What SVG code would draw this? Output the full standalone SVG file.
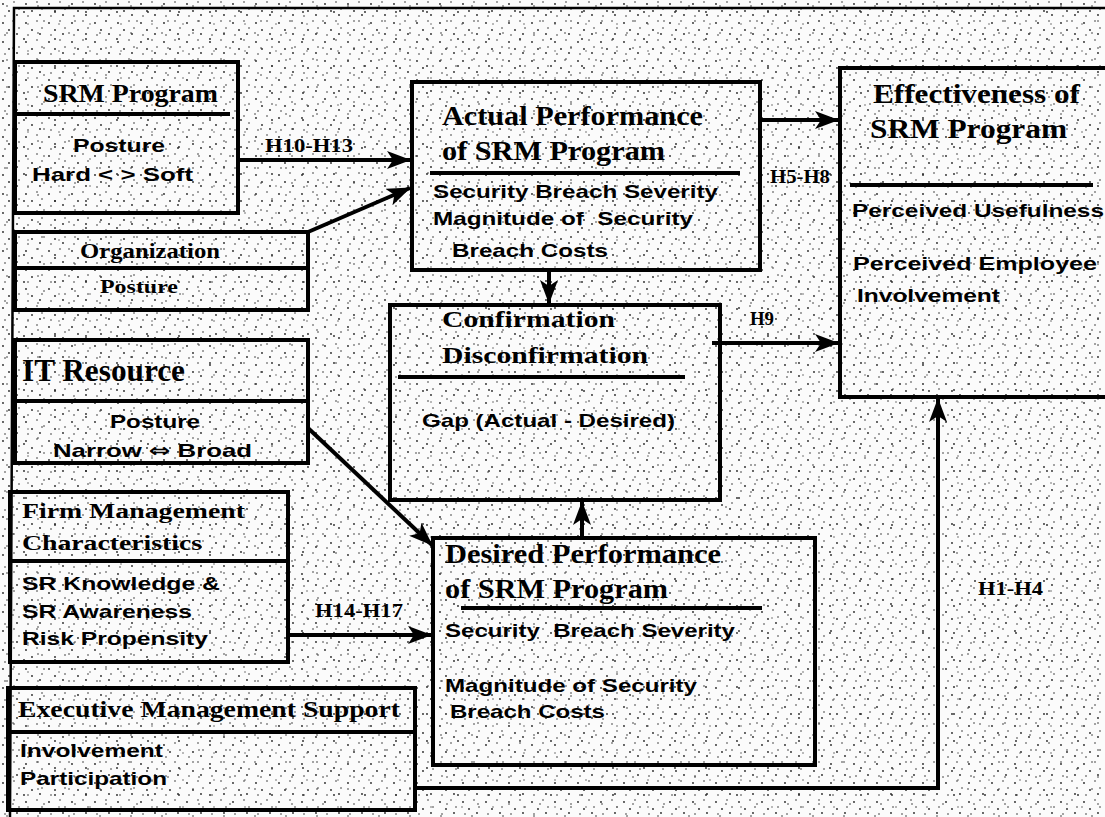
<svg xmlns="http://www.w3.org/2000/svg" width="1105" height="817" viewBox="0 0 1105 817">
  <defs>
    <!-- speckled paper texture -->
    <pattern id="speckA" width="23" height="19" patternUnits="userSpaceOnUse">
      <rect width="23" height="19" fill="#fbfbfb"/>
      <circle cx="3" cy="4" r="0.9" fill="#222"/>
      <circle cx="14" cy="2" r="0.8" fill="#333"/>
      <circle cx="9" cy="11" r="0.9" fill="#222"/>
      <circle cx="19" cy="9" r="0.8" fill="#333"/>
      <circle cx="5" cy="16" r="0.8" fill="#333"/>
      <circle cx="17" cy="15" r="0.9" fill="#222"/>
    </pattern>
    <pattern id="speckB" width="31" height="27" patternUnits="userSpaceOnUse">
      <circle cx="7" cy="6" r="0.8" fill="#333"/>
      <circle cx="24" cy="12" r="0.9" fill="#222"/>
      <circle cx="13" cy="21" r="0.8" fill="#333"/>
      <circle cx="28" cy="24" r="0.7" fill="#444"/>
    </pattern>
    <marker id="arr" viewBox="0 0 24 18" refX="23" refY="9" markerWidth="24" markerHeight="18" markerUnits="userSpaceOnUse" orient="auto">
      <path d="M0,0 L24,9 L0,18 L6,9 Z" fill="#000"/>
    </marker>
  </defs>
  <style>
    .box { fill: none; stroke: #000; stroke-width: 4; }
    .rule { stroke: #000; stroke-width: 4; }
    .frame { fill: none; stroke: #000; stroke-width: 2.5; }
    .ttl { font-family: "Liberation Serif", "Times New Roman", serif; font-weight: bold; fill: #000; }
    .txt { font-family: "Liberation Sans", Arial, sans-serif; font-weight: bold; fill: #000; font-size: 19px; }
    .sym { font-family: "DejaVu Sans", sans-serif; font-weight: bold; }
    .lbl { font-family: "Liberation Serif", "Times New Roman", serif; font-weight: bold; fill: #000; font-size: 19px; }
    .conn { fill: none; stroke: #000; stroke-width: 4; marker-end: url(#arr); }
  </style>

  <rect width="1105" height="817" fill="url(#speckA)"/>
  <rect width="1105" height="817" fill="url(#speckB)"/>

  <!-- outer frame: top and left edges -->
  <path class="frame" d="M1110,8 L14,8 L10,817"/>

  <g id="srm-program">
    <rect class="box" x="15" y="62" width="223" height="151"/>
    <line class="rule" x1="15" y1="114" x2="230" y2="114"/>
    <text class="ttl" x="43" y="102" font-size="25" textLength="175" lengthAdjust="spacingAndGlyphs">SRM Program</text>
    <text class="txt" x="73" y="152" font-size="21" textLength="92" lengthAdjust="spacingAndGlyphs">Posture</text>
    <text class="txt" x="32" y="181" font-size="21" textLength="161" lengthAdjust="spacingAndGlyphs">Hard &lt; &gt; Soft</text>
  </g>

  <g id="organization">
    <rect class="box" x="15" y="232" width="293" height="78"/>
    <line class="rule" x1="15" y1="268" x2="308" y2="268"/>
    <text class="ttl" x="80" y="258" font-size="21" textLength="140" lengthAdjust="spacingAndGlyphs">Organization</text>
    <text class="ttl" x="100" y="293" font-size="19" textLength="78" lengthAdjust="spacingAndGlyphs">Posture</text>
  </g>

  <g id="it-resource">
    <rect class="box" x="15" y="340" width="293" height="123"/>
    <line class="rule" x1="15" y1="401" x2="308" y2="401"/>
    <text class="ttl" x="22" y="381" font-size="31" textLength="163" lengthAdjust="spacingAndGlyphs">IT Resource</text>
    <text class="txt" x="110" y="428" font-size="20" textLength="90" lengthAdjust="spacingAndGlyphs">Posture</text>
    <text class="txt" x="53" y="457" font-size="21" textLength="199" lengthAdjust="spacingAndGlyphs">Narrow <tspan class="sym">⇔</tspan> Broad</text>
  </g>

  <g id="firm-management">
    <rect class="box" x="10" y="492" width="278" height="170"/>
    <line class="rule" x1="10" y1="561" x2="288" y2="561"/>
    <text class="ttl" x="22" y="518" font-size="22" textLength="223" lengthAdjust="spacingAndGlyphs">Firm Management</text>
    <text class="ttl" x="22" y="550" font-size="22" textLength="180" lengthAdjust="spacingAndGlyphs">Characteristics</text>
    <text class="txt" x="22" y="590" font-size="20" textLength="198" lengthAdjust="spacingAndGlyphs">SR Knowledge &amp;</text>
    <text class="txt" x="22" y="618" font-size="20" textLength="170" lengthAdjust="spacingAndGlyphs">SR Awareness</text>
    <text class="txt" x="22" y="645" font-size="20" textLength="186" lengthAdjust="spacingAndGlyphs">Risk Propensity</text>
  </g>

  <g id="executive-support">
    <rect class="box" x="8" y="688" width="407" height="122"/>
    <line class="rule" x1="8" y1="732" x2="415" y2="732"/>
    <text class="ttl" x="18" y="717" font-size="23" textLength="382" lengthAdjust="spacingAndGlyphs">Executive Management Support</text>
    <text class="txt" x="20" y="757" font-size="19" textLength="143" lengthAdjust="spacingAndGlyphs">Involvement</text>
    <text class="txt" x="20" y="785" font-size="19" textLength="147" lengthAdjust="spacingAndGlyphs">Participation</text>
  </g>

  <g id="actual-performance">
    <rect class="box" x="412" y="82" width="348" height="188"/>
    <line class="rule" x1="430" y1="173" x2="740" y2="173"/>
    <text class="ttl" x="442" y="125" font-size="27" textLength="261" lengthAdjust="spacingAndGlyphs">Actual Performance</text>
    <text class="ttl" x="442" y="160" font-size="27" textLength="223" lengthAdjust="spacingAndGlyphs">of SRM Program</text>
    <text class="txt" x="433" y="198" font-size="19" textLength="285" lengthAdjust="spacingAndGlyphs">Security Breach Severity</text>
    <text class="txt" x="433" y="225" font-size="19" textLength="260" lengthAdjust="spacingAndGlyphs" xml:space="preserve">Magnitude of  Security</text>
    <text class="txt" x="452" y="257" font-size="19" textLength="156" lengthAdjust="spacingAndGlyphs">Breach Costs</text>
  </g>

  <g id="confirmation">
    <rect class="box" x="390" y="305" width="330" height="195"/>
    <line class="rule" x1="398" y1="377" x2="685" y2="377"/>
    <text class="ttl" x="442" y="327" font-size="23" textLength="173" lengthAdjust="spacingAndGlyphs">Confirmation</text>
    <text class="ttl" x="442" y="363" font-size="23" textLength="206" lengthAdjust="spacingAndGlyphs">Disconfirmation</text>
    <text class="txt" x="422" y="427" font-size="19" textLength="253" lengthAdjust="spacingAndGlyphs">Gap (Actual - Desired)</text>
  </g>

  <g id="desired-performance">
    <rect class="box" x="433" y="538" width="382" height="227"/>
    <line class="rule" x1="461" y1="608" x2="762" y2="608"/>
    <text class="ttl" x="445" y="563" font-size="27" textLength="276" lengthAdjust="spacingAndGlyphs">Desired Performance</text>
    <text class="ttl" x="445" y="598" font-size="27" textLength="223" lengthAdjust="spacingAndGlyphs">of SRM Program</text>
    <text class="txt" x="445" y="637" font-size="19" textLength="290" lengthAdjust="spacingAndGlyphs" xml:space="preserve">Security  Breach Severity</text>
    <text class="txt" x="445" y="692" font-size="19" textLength="252" lengthAdjust="spacingAndGlyphs">Magnitude of Security</text>
    <text class="txt" x="450" y="718" font-size="19" textLength="155" lengthAdjust="spacingAndGlyphs">Breach Costs</text>
  </g>

  <g id="effectiveness">
    <path class="box" d="M1110,68 L840,68 L840,397 L1110,397"/>
    <line class="rule" x1="850" y1="185" x2="1093" y2="185"/>
    <text class="ttl" x="873" y="103" font-size="27" textLength="207" lengthAdjust="spacingAndGlyphs">Effectiveness of</text>
    <text class="ttl" x="870" y="138" font-size="27" textLength="197" lengthAdjust="spacingAndGlyphs">SRM Program</text>
    <text class="txt" x="852" y="217" font-size="18" textLength="252" lengthAdjust="spacingAndGlyphs">Perceived Usefulness</text>
    <text class="txt" x="853" y="270" font-size="18" textLength="244" lengthAdjust="spacingAndGlyphs">Perceived Employee</text>
    <text class="txt" x="857" y="302" font-size="18" textLength="143" lengthAdjust="spacingAndGlyphs">Involvement</text>
  </g>

  <g id="connectors">
    <path class="conn" d="M238,160 L410,160"/>
    <path class="conn" d="M308,232 L410,188"/>
    <path class="conn" d="M760,120 L838,120"/>
    <path class="conn" d="M549,270 L549,303"/>
    <path class="conn" d="M712,343 L838,343"/>
    <path class="conn" d="M308,428 L432,545"/>
    <path class="conn" d="M288,635 L431,635"/>
    <path class="conn" d="M582,538 L582,502"/>
    <path class="conn" d="M415,788 L938,788 L938,399"/>
  </g>

  <g id="connector-labels">
    <text class="lbl" x="265" y="152" textLength="88" lengthAdjust="spacingAndGlyphs">H10-H13</text>
    <text class="lbl" x="770" y="183" textLength="60" lengthAdjust="spacingAndGlyphs">H5-H8</text>
    <text class="lbl" x="750" y="325" textLength="24" lengthAdjust="spacingAndGlyphs">H9</text>
    <text class="lbl" x="315" y="617" textLength="88" lengthAdjust="spacingAndGlyphs">H14-H17</text>
    <text class="lbl" x="978" y="595" textLength="65" lengthAdjust="spacingAndGlyphs">H1-H4</text>
  </g>
</svg>
